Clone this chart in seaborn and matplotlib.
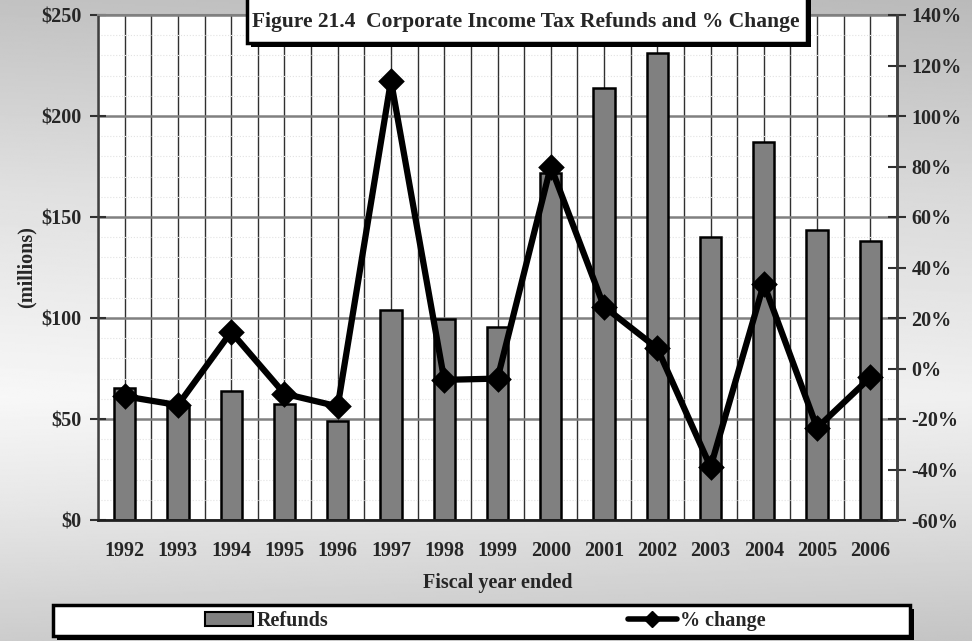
import numpy as np
import pandas as pd
import matplotlib
matplotlib.use("Agg")
import matplotlib.pyplot as plt
from matplotlib.patches import Rectangle, Patch
from matplotlib.lines import Line2D
from matplotlib.ticker import MultipleLocator, FuncFormatter
import seaborn as sns

# Corporate income tax refunds by fiscal year ($ millions) and year-over-year % change
years = ["1992", "1993", "1994", "1995", "1996", "1997", "1998", "1999",
         "2000", "2001", "2002", "2003", "2004", "2005", "2006"]
refunds = [65.3, 56.0, 63.9, 57.4, 48.8, 104.0, 99.5, 95.5,
           171.6, 213.9, 231.0, 140.0, 187.0, 143.5, 138.0]
pct_change = [-11.0, -14.5, 14.5, -10.0, -15.0, 114.0, -4.5, -4.0,
              80.0, 24.5, 8.0, -39.0, 33.5, -23.5, -3.5]

title = "Figure 21.4  Corporate Income Tax Refunds and % Change"

df = pd.DataFrame({"year": years, "refunds": refunds, "pct": pct_change})

sns.set_theme(style="white")
plt.rcParams["font.family"] = ["Liberation Serif", "DejaVu Serif"]
plt.rcParams["font.weight"] = "bold"

FS = 14.5
W, H = 972, 641
fig = plt.figure(figsize=(W / 100, H / 100), dpi=100)


def fx(px):
    return px / W


def fy(py):
    return 1 - py / H


# soft gray background gradient
bg = fig.add_axes([0, 0, 1, 1], zorder=-10)
yy = np.linspace(0, 1, 400)
xx = np.linspace(0, 1, 300)
col = np.interp(yy, [0.0, 0.3, 0.62, 0.8, 1.0], [0.76, 0.88, 0.97, 0.90, 0.80])
grad = col[:, None] - 0.03 * xx[None, :]
bg.imshow(grad, cmap="gray", vmin=0, vmax=1, aspect="auto",
          extent=[0, 1, 0, 1], origin="upper")
bg.set_axis_off()

ax = fig.add_axes([fx(98), fy(520), fx(897) - fx(98), fy(15) - fy(520)])
ax.set_facecolor("white")

sns.barplot(data=df, x="year", y="refunds", ax=ax, color="#808080",
            saturation=1, width=0.4, edgecolor="black", linewidth=1.8,
            errorbar=None)

ax.set_xlim(-0.5, len(years) - 0.5)
ax.set_ylim(0, 250)
ax.yaxis.set_major_locator(MultipleLocator(50))
ax.yaxis.set_minor_locator(MultipleLocator(10))
ax.yaxis.set_major_formatter(FuncFormatter(lambda v, p: f"${v:.0f}"))

# x ticks: labels at category centres, marks at boundaries
ax.set_xticks(np.arange(len(years)))
ax.set_xticklabels(years)
ax.set_xticks(np.arange(-0.5, len(years), 1.0), minor=True)

ax.set_axisbelow(True)
ax.grid(True, which="major", axis="y", color="#808080", lw=1.8)
ax.grid(True, which="minor", axis="y", color="#e2e2e2", lw=0.8, ls=":")
ax.grid(True, which="both", axis="x", color="#303030", lw=1.0)

ax.tick_params(axis="x", which="major", length=0, pad=15, labelsize=FS)
ax.tick_params(axis="x", which="minor", direction="out", length=7,
               width=1.2, color="#303030")
ax.tick_params(axis="y", which="major", direction="inout", length=12,
               width=1.5, color="#303030", labelsize=FS, pad=6)
ax.tick_params(axis="y", which="minor", length=0)

ax.set_xlabel("Fiscal year ended", fontsize=FS, fontweight="bold", labelpad=8.5)
ax.set_ylabel("(millions)", fontsize=FS, fontweight="bold", labelpad=3)

for side in ["left", "right"]:
    ax.spines[side].set_color("#404040")
    ax.spines[side].set_linewidth(1.8)
ax.spines["bottom"].set_color("#202020")
ax.spines["bottom"].set_linewidth(2)
ax.spines["top"].set_color("#808080")
ax.spines["top"].set_linewidth(1.5)

# % change line on the secondary axis
ax2 = ax.twinx()
sns.pointplot(data=df, x="year", y="pct", ax=ax2, color="black",
              markers="D", markersize=10, linewidth=4.5, errorbar=None)
ax2.set_xlim(-0.5, len(years) - 0.5)
ax2.set_ylim(-60, 140)
ax2.yaxis.set_major_locator(MultipleLocator(20))
ax2.yaxis.set_major_formatter(FuncFormatter(lambda v, p: f"{v:.0f}%"))
ax2.set_ylabel("")
ax2.set_xlabel("")
ax2.grid(False)
ax2.tick_params(axis="y", which="major", direction="inout", length=13,
                width=1.5, color="#303030", labelsize=FS, pad=4,
                right=True, left=False, labelright=True, labelleft=False)
for s in ["left", "top", "bottom"]:
    ax2.spines[s].set_visible(False)
ax2.spines["right"].set_color("#404040")
ax2.spines["right"].set_linewidth(1.8)

# title box with drop shadow
tx0, tx1, ty_bot = 247, 807, 43
fig.patches.append(Rectangle((fx(tx0 + 4), fy(ty_bot + 4)),
                             fx(tx1 - tx0), fy(-20) - fy(ty_bot),
                             transform=fig.transFigure, facecolor="black",
                             edgecolor="none", zorder=2))
fig.patches.append(Rectangle((fx(tx0), fy(ty_bot)),
                             fx(tx1 - tx0), fy(-20) - fy(ty_bot),
                             transform=fig.transFigure, facecolor="white",
                             edgecolor="black", lw=2.5, zorder=3))
fig.text(fx(526), fy(22), title, ha="center", va="center",
         fontsize=15.5, fontweight="bold", zorder=4)

# legend box with drop shadow
lx0, lx1, ly0, ly1 = 53, 910, 605, 636
fig.patches.append(Rectangle((fx(lx0 + 4), fy(ly1 + 4)),
                             fx(lx1 - lx0), fy(ly0) - fy(ly1),
                             transform=fig.transFigure, facecolor="black",
                             edgecolor="none", zorder=2))
fig.patches.append(Rectangle((fx(lx0), fy(ly1)),
                             fx(lx1 - lx0), fy(ly0) - fy(ly1),
                             transform=fig.transFigure, facecolor="white",
                             edgecolor="black", lw=2.5, zorder=3))

handles = [Patch(facecolor="#808080", edgecolor="black", lw=1.5),
           Line2D([], [], color="black", lw=4, marker="D", markersize=8)]
leg = fig.legend(handles, ["Refunds", "% change"], ncol=2, frameon=False,
                 loc="center left", bbox_to_anchor=(fx(205), fy(621)),
                 prop={"size": FS, "weight": "bold"}, handlelength=2.4,
                 handleheight=0.65, handletextpad=0.15, columnspacing=14.9,
                 borderpad=0, borderaxespad=0)
leg.set_zorder(5)

fig.savefig("out.png", dpi=100)
